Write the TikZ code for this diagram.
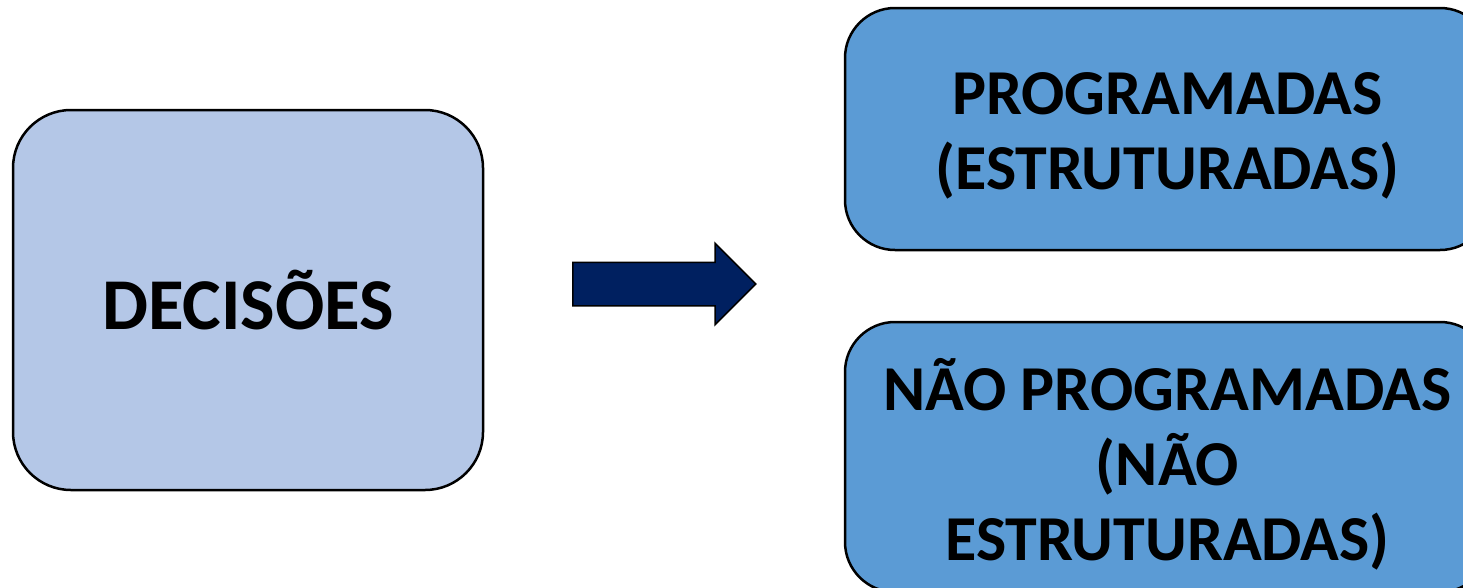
\documentclass[tikz,border=0pt]{standalone}
\usepackage{fontspec}
\setmainfont{Carlito}
\usepackage{xcolor}
\definecolor{leftfill}{HTML}{B4C7E7}
\definecolor{rightfill}{HTML}{5B9BD5}
\definecolor{navy}{HTML}{002060}
\usetikzlibrary{shapes.arrows,positioning}

\begin{document}
\begin{tikzpicture}[x=1pt,y=-1pt]

    \tikzset{
      box/.style={
        draw=black,
        line width=2.5pt,
        rounded corners=50pt,
        inner sep=0pt,
      },
      boxtext/.style={
        inner sep=0pt,
        align=center,
        font=\bfseries\fontsize{64}{75}\selectfont,
      },
    }
    \useasboundingbox (0,0) rectangle (1463,587);
    \clip (0,0) rectangle (1463,587);
	\node [box,fill=leftfill,rounded corners=58pt,minimum width=470pt,minimum height=380pt] (decisoes) at (248,300) {};
	\node [box,fill=rightfill,minimum width=645pt,minimum height=242pt] (prog) at (1167.5,129) {};
	\node [box,fill=rightfill,minimum width=645pt,minimum height=270pt] (naoprog) at (1167.5,457) {};
	\node [boxtext,font=\bfseries\fontsize{73}{80}\selectfont] (decisoestxt) at (decisoes.center) {DECISÕES};
	\node [boxtext,yshift=-7pt] (progtxt) at (prog.center) {PROGRAMADAS\\(ESTRUTURADAS)};
	\node [boxtext,yshift=-7pt] (naoprogtxt) at (naoprog.center) {NÃO PROGRAMADAS\\(NÃO\\ESTRUTURADAS)};
	\node [draw=black,line width=1.5pt,fill=navy,shape=single arrow,inner sep=0pt,text height=21pt,text depth=21pt,minimum height=183pt,single arrow head extend=19pt,single arrow tip angle=90,anchor=tail] (seta) at (572,284) {};

\end{tikzpicture}
\end{document}
